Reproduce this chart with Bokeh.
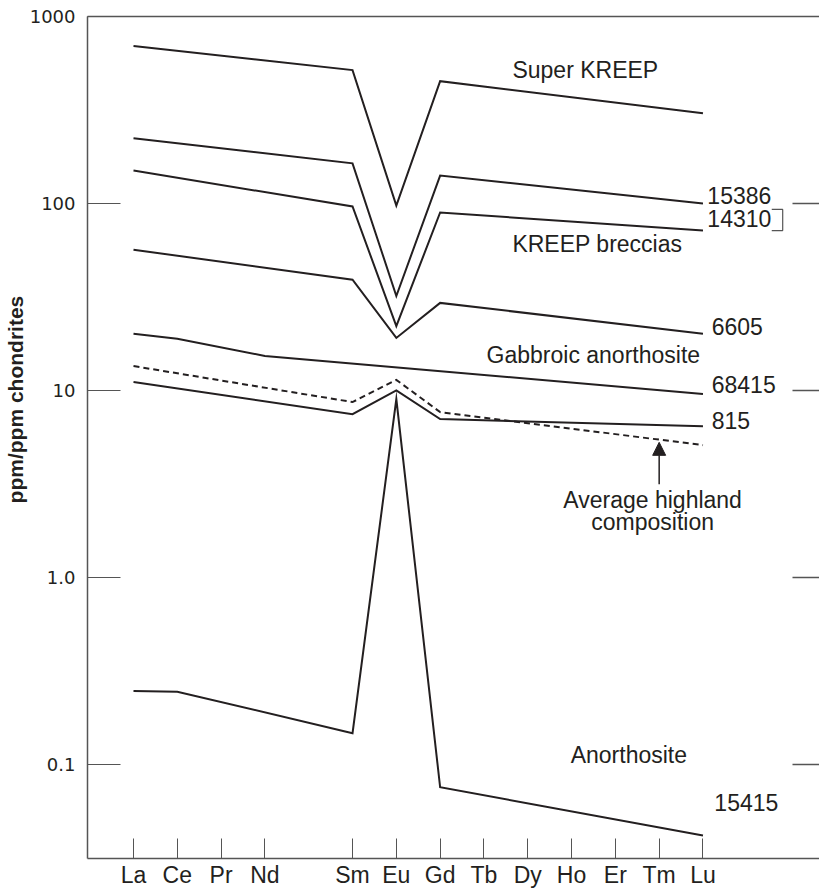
from bokeh.plotting import figure
from bokeh.models import (Range1d, FixedTicker, LinearAxis, LogAxis, Arrow,
                          NormalHead, ColumnDataSource)
from bokeh.core.properties import value
from bokeh.embed import file_html
from bokeh.resources import INLINE

# ---------------- data ----------------
elements = ["La", "Ce", "Pr", "Nd", "Sm", "Eu", "Gd", "Tb", "Dy", "Ho", "Er", "Tm", "Lu"]
element_pos = [0, 1, 2, 3, 5, 6, 7, 8, 9, 10, 11, 12, 13]
pos = dict(zip(elements, element_pos))

y_ticks = [0.1, 1, 10, 100, 1000]
y_tick_labels = ["0.1", "1.0", "10", "100", "1000"]

super_kreep_el = ["La", "Sm", "Eu", "Gd", "Lu"]
super_kreep = [695, 517, 97.5, 451, 304]

s15386_el = ["La", "Sm", "Eu", "Gd", "Lu"]
s15386 = [223, 164, 32, 141, 100]

s14310_el = ["La", "Sm", "Eu", "Gd", "Lu"]
s14310 = [150, 96.4, 22.1, 89.5, 71.6]

s6605_el = ["La", "Sm", "Eu", "Gd", "Lu"]
s6605 = [56.6, 39.1, 19.1, 29.4, 20.1]

s68415_el = ["La", "Ce", "Nd", "Lu"]
s68415 = [20.1, 18.9, 15.3, 9.57]

highland_el = ["La", "Sm", "Eu", "Gd", "Lu"]
highland = [13.5, 8.67, 11.4, 7.66, 5.1]

s815_el = ["La", "Sm", "Eu", "Gd", "Lu"]
s815 = [11.1, 7.47, 10.0, 7.03, 6.44]

anor_el = ["La", "Ce", "Sm", "Eu", "Gd", "Lu"]
anor = [0.247, 0.245, 0.147, 9.0, 0.0755, 0.0417]

INK = "#231f20"
AX = "#555555"
FONT = "Liberation Sans"

p = figure(width=819, height=892, y_axis_type="log",
           x_range=Range1d(-1.05, 15.66), y_range=Range1d(10 ** -1.503, 1000),
           output_backend="svg", toolbar_location=None,
           min_border_left=87, min_border_right=0, min_border_top=16, min_border_bottom=34)
p.outline_line_color = None
p.grid.grid_line_color = None
p.background_fill_color = "white"

# data lines
def draw(els, vals, dash="solid"):
    p.line([pos[e] for e in els], vals, line_color=INK, line_width=2, line_dash=dash,
           line_join="miter")

draw(super_kreep_el, super_kreep)
draw(s15386_el, s15386)
draw(s14310_el, s14310)
draw(s6605_el, s6605)
draw(s68415_el, s68415)
draw(highland_el, highland, "6 4")
draw(s815_el, s815)
draw(anor_el, anor)

# axes
xa = p.xaxis[0]
xa.ticker = FixedTicker(ticks=element_pos)
xa.major_label_overrides = {pp: e for e, pp in zip(elements, element_pos)}
xa.major_tick_in = 20
xa.major_tick_out = 0
xa.minor_tick_line_color = None
xa.axis_line_color = AX
xa.axis_line_width = 1.5
xa.major_tick_line_color = AX
xa.major_label_text_font = FONT
xa.major_label_text_font_size = "23px"
xa.major_label_text_color = INK
xa.major_label_standoff = 3

ya = p.yaxis[0]
ya.ticker = FixedTicker(ticks=y_ticks)
ya.major_label_overrides = {t: l for t, l in zip(y_ticks, y_tick_labels)}
ya.major_tick_in = 33
ya.major_tick_out = 0
ya.minor_tick_line_color = None
ya.axis_line_color = AX
ya.axis_line_width = 1.5
ya.major_tick_line_color = AX
ya.major_label_text_font = "DejaVu Sans"
ya.major_label_text_font_size = "18px"
ya.major_label_text_color = INK
ya.major_label_standoff = 12
# leading no-break spaces lift the title a little above the frame centre, as in the original
ya.axis_label = "\u00a0" * 13 + "ppm/ppm chondrites"
ya.axis_label_text_font = FONT
ya.axis_label_text_font_style = "bold"
ya.axis_label_text_font_size = "21px"
ya.axis_label_text_color = INK
ya.axis_label_standoff = 0

top = LinearAxis(ticker=FixedTicker(ticks=[0]), major_tick_in=0, major_tick_out=0,
                 minor_tick_line_color=None, major_tick_line_color=None,
                 major_label_text_font_size="1px", major_label_text_alpha=0,
                 major_label_standoff=0, axis_line_color=AX, axis_line_width=1.5)
p.add_layout(top, "above")

right = LogAxis(ticker=FixedTicker(ticks=[0.1, 1, 10, 100]), major_tick_in=27, major_tick_out=0,
                minor_tick_line_color=None, major_label_text_font_size="1px",
                major_label_text_alpha=0,
                major_label_standoff=0, axis_line_color=None, major_tick_line_color=AX,
                major_tick_line_width=1.5)
p.add_layout(right, "right")

# labels
labels = dict(
    x=[8.65, 13.1, 13.1, 8.65, 13.2, 8.06, 13.2, 13.2, 9.98, 13.26],
    y=[517, 110, 83.2, 61, 21.9, 15.5, 10.7, 6.93, 0.112, 0.0628],
    t=["Super KREEP", "15386", "14310", "KREEP breccias", "6605", "Gabbroic anorthosite",
       "68415", "815", "Anorthosite", "15415"],
)
p.text(x="x", y="y", text="t", source=ColumnDataSource(labels),
       text_font=value(FONT), text_font_size="23px", text_color=INK,
       text_align="left", text_baseline="middle")

p.text(x=[11.85, 11.85], y=[2.61, 1.97], text=["Average highland", "composition"],
       text_font=value(FONT), text_font_size="23px", text_color=INK,
       text_align="center", text_baseline="middle")

# bracket beside 14310
p.line([14.57, 14.82, 14.82, 14.57], [92.9, 92.9, 71.6, 71.6], line_color=AX, line_width=1.2)

# arrow to average highland line
p.add_layout(Arrow(end=NormalHead(size=13, fill_color=INK, line_color=INK),
                   x_start=12, y_start=3.15, x_end=12, y_end=5.28,
                   line_color=INK, line_width=1.5))

open("out.html", "w").write(file_html(p, INLINE))
